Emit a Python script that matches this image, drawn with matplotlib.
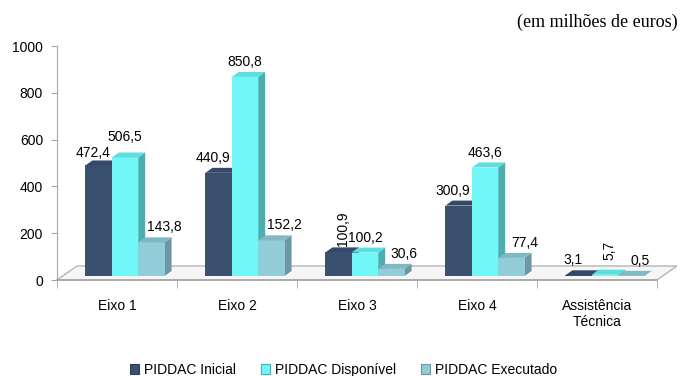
import numpy as np
import matplotlib.pyplot as plt
from matplotlib.patches import Polygon, Patch

plt.rcParams["font.family"] = ["Liberation Sans", "DejaVu Sans"]

categories = ["Eixo 1", "Eixo 2", "Eixo 3", "Eixo 4", "Assistência\nTécnica"]
series = ["PIDDAC Inicial", "PIDDAC Disponível", "PIDDAC Executado"]
inicial = [472.4, 440.9, 100.9, 300.9, 3.1]
disponivel = [506.5, 850.8, 100.2, 463.6, 5.7]
executado = [143.8, 152.2, 30.6, 77.4, 0.5]
values = [inicial, disponivel, executado]

front = ["#3a506f", "#70f7f7", "#92ccd8"]
side = ["#2c405c", "#4aafb0", "#6c98a4"]
top = ["#34496a", "#5fdede", "#80b8c4"]

fig = plt.figure(figsize=(6.81, 3.76), dpi=100)
ax = fig.add_axes([57 / 681, 96 / 376, 600 / 681, 234 / 376])
ax.set_xlim(0, 5)
ax.set_ylim(0, 1000)

# pixel -> data unit conversion for the fake 3D depth
sx = 5 / 600
sy = 1000 / 234
bdx, bdy = 7 * sx, 5 * sy        # bar depth
fdx, fdy = 20 * sx, 14 * sy      # floor depth
lift = 4 * sy                    # bars stand mid-floor
shift = 8 * sx
w = 0.22

# floor
floor = Polygon([(0, 0), (5, 0), (5 + fdx, fdy), (fdx, fdy)], closed=True,
                facecolor="#f6f6f6", edgecolor="#b5b5b5", lw=1.0,
                clip_on=False, zorder=1)
ax.add_patch(floor)

# label placement tweaks (px): rotated labels and the crowded Eixo 1 pair
rotated = [(2, 0), (4, 1)]
nudge = {(0, 0): (0, -3), (0, 1): (0, 5), (4, 2): (-4, 0)}

x = np.arange(len(categories)) + 0.5 + shift
z = 3
for i in range(len(categories)):
    for s in range(len(series)):
        v = values[s][i]
        x0 = x[i] + (s - 1.5) * w
        x1 = x0 + w
        b, t = lift, lift + v
        ax.bar(x0, v, width=w, bottom=b, align="edge",
               color=front[s], lw=0, zorder=z)
        ax.add_patch(Polygon([(x1, b), (x1, t), (x1 + bdx, t + bdy),
                              (x1 + bdx, b + bdy)], closed=True,
                             facecolor=side[s], lw=0, zorder=z - 0.5,
                             clip_on=False))
        ax.add_patch(Polygon([(x0, t), (x1, t), (x1 + bdx, t + bdy),
                              (x0 + bdx, t + bdy)], closed=True,
                             facecolor=top[s], lw=0, zorder=z,
                             clip_on=False))
        z += 1

        label = f"{v:.1f}".replace(".", ",")
        xc = x0 + w / 2
        if (i, s) in rotated:
            ax.text(xc + 4 * sx, t + 24 * sy, label, rotation=90,
                    ha="center", va="center", fontsize=10, zorder=100)
        else:
            nx, ny = nudge.get((i, s), (0, 0))
            off = [-6, 0, 13][s] + nx
            ax.text(xc + off * sx, t + (15 + ny) * sy, label, ha="center",
                    va="center", fontsize=10, zorder=100)

# axes styling
for sp in ["top", "right"]:
    ax.spines[sp].set_visible(False)
ax.spines["left"].set_color("#a6a6a6")
ax.spines["bottom"].set_color("#a6a6a6")
ax.spines["bottom"].set_linewidth(1.2)
ax.set_yticks(np.arange(0, 1001, 200))
ax.tick_params(axis="y", length=4, color="#a6a6a6", pad=6, labelsize=10)
ax.set_xticks(np.arange(len(categories)) + 0.5)
ax.set_xticklabels(categories, fontsize=10, va="top", linespacing=1.1)
ax.tick_params(axis="x", length=0, pad=14)
ax.set_xticks(np.arange(0, 6), minor=True)
ax.tick_params(axis="x", which="minor", length=6, color="#a6a6a6")
ax.patch.set_alpha(0)

fig.text(678 / 681, 1 - 22 / 376, "(em milhões de euros)", ha="right",
         va="center", fontsize=13, family="Liberation Serif")

handles = [Patch(facecolor=front[s], edgecolor=side[s], lw=0.8)
           for s in range(len(series))]
fig.legend(handles, series, loc="center", bbox_to_anchor=(0.504, 1 - 370 / 376),
           ncol=3, frameon=False, fontsize=10, handlelength=0.7,
           handleheight=0.7, handletextpad=0.3, columnspacing=1.8)

fig.savefig("out.png", dpi=100)
